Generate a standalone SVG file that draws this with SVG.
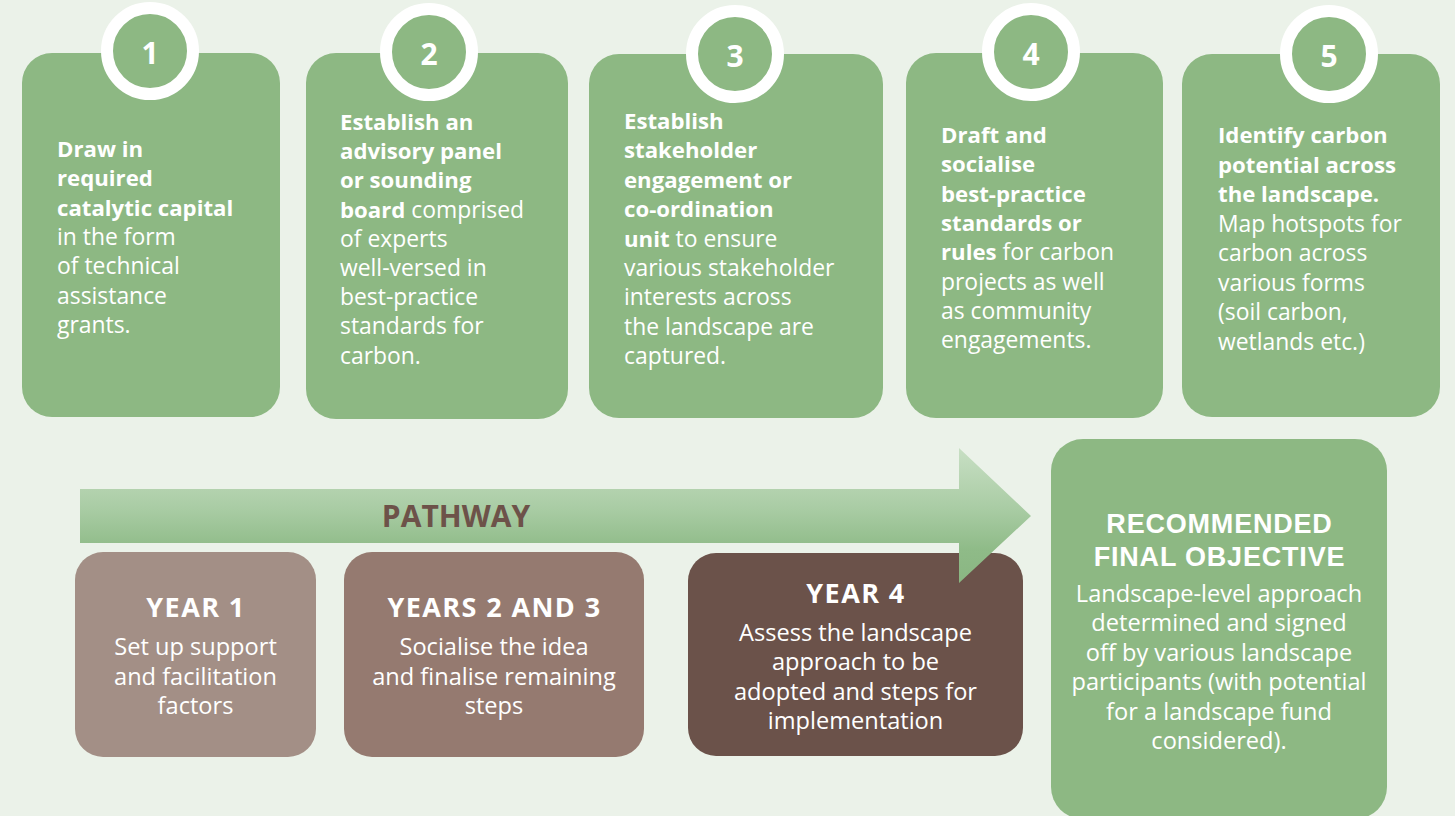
<svg xmlns="http://www.w3.org/2000/svg" width="1455" height="816" viewBox="0 0 1455 816">
<defs>
<linearGradient id="arrowGrad" x1="0" y1="448" x2="0" y2="583" gradientUnits="userSpaceOnUse">
<stop offset="0" stop-color="#c8dfc4"/>
<stop offset="0.45" stop-color="#a9cca4"/>
<stop offset="0.75" stop-color="#8fbb88"/>
<stop offset="1" stop-color="#8ab682"/>
</linearGradient>
<style>
.card{fill:#8db883}
.ring{fill:#8db883;stroke:#ffffff;stroke-width:12}
.num{font-family:"Open Sans","Liberation Sans",sans-serif;font-weight:700;font-size:30px;fill:#ffffff;text-anchor:middle}
.t{font-family:"Open Sans","Liberation Sans",sans-serif;font-size:22.9px;fill:#ffffff}
.b{font-weight:700;font-size:22.2px}
.c{text-anchor:middle;font-size:23.6px}
.h{font-family:"Open Sans","Liberation Sans",sans-serif;font-weight:700;font-size:27px;letter-spacing:1.4px;fill:#ffffff;text-anchor:middle}
.ho{font-family:"Liberation Sans","Open Sans",sans-serif;font-weight:700;font-size:27px;letter-spacing:0.8px;fill:#ffffff;text-anchor:middle}
.pw{font-family:"Open Sans","Liberation Sans",sans-serif;font-weight:700;font-size:30px;fill:#6d5249;text-anchor:middle}
</style>
</defs>
<rect x="0" y="0" width="1455" height="816" fill="#ebf2e9"/>

<g id="step1">
<rect class="card" x="22" y="53" width="258" height="364" rx="30"/>
<circle class="ring" cx="150" cy="51" r="43"/>
<text class="num" x="150" y="64">1</text>
<text class="t" x="57" y="157"><tspan class="b">Draw in</tspan><tspan class="b" x="57" dy="29.3">required</tspan><tspan class="b" x="57" dy="29.3">catalytic capital</tspan><tspan x="57" dy="29.3">in the form</tspan><tspan x="57" dy="29.3">of technical</tspan><tspan x="57" dy="29.3">assistance</tspan><tspan x="57" dy="29.3">grants.</tspan></text>
</g>

<g id="step2">
<rect class="card" x="306" y="53" width="262" height="366" rx="30"/>
<circle class="ring" cx="429" cy="52" r="43"/>
<text class="num" x="429" y="65">2</text>
<text class="t" x="340" y="130"><tspan class="b">Establish an</tspan><tspan class="b" x="340" dy="29.2">advisory panel</tspan><tspan class="b" x="340" dy="29.2">or sounding</tspan><tspan class="b" x="340" dy="29.2">board</tspan><tspan> comprised</tspan><tspan x="340" dy="29.2">of experts</tspan><tspan x="340" dy="29.2">well-versed in</tspan><tspan x="340" dy="29.2">best-practice</tspan><tspan x="340" dy="29.2">standards for</tspan><tspan x="340" dy="29.2">carbon.</tspan></text>
</g>

<g id="step3">
<rect class="card" x="589" y="54" width="294" height="364" rx="30"/>
<circle class="ring" cx="735" cy="54" r="43"/>
<text class="num" x="735" y="67">3</text>
<text class="t" x="624" y="129"><tspan class="b">Establish</tspan><tspan class="b" x="624" dy="29.4">stakeholder</tspan><tspan class="b" x="624" dy="29.4">engagement or</tspan><tspan class="b" x="624" dy="29.4">co-ordination</tspan><tspan class="b" x="624" dy="29.4">unit</tspan><tspan> to ensure</tspan><tspan x="624" dy="29.4">various stakeholder</tspan><tspan x="624" dy="29.4">interests across</tspan><tspan x="624" dy="29.4">the landscape are</tspan><tspan x="624" dy="29.4">captured.</tspan></text>
</g>

<g id="step4">
<rect class="card" x="906" y="53" width="257" height="365" rx="30"/>
<circle class="ring" cx="1031" cy="52" r="43"/>
<text class="num" x="1031" y="65">4</text>
<text class="t" x="941" y="143"><tspan class="b">Draft and</tspan><tspan class="b" x="941" dy="29.3">socialise</tspan><tspan class="b" x="941" dy="29.3">best-practice</tspan><tspan class="b" x="941" dy="29.3">standards or</tspan><tspan class="b" x="941" dy="29.3">rules</tspan><tspan> for carbon</tspan><tspan x="941" dy="29.3">projects as well</tspan><tspan x="941" dy="29.3">as community</tspan><tspan x="941" dy="29.3">engagements.</tspan></text>
</g>

<g id="step5">
<rect class="card" x="1182" y="54" width="258" height="363" rx="30"/>
<circle class="ring" cx="1329" cy="54" r="43"/>
<text class="num" x="1329" y="67">5</text>
<text class="t" x="1218" y="143"><tspan class="b">Identify carbon</tspan><tspan class="b" x="1218" dy="29.5">potential across</tspan><tspan class="b" x="1218" dy="29.5">the landscape.</tspan><tspan x="1218" dy="29.5">Map hotspots for</tspan><tspan x="1218" dy="29.5">carbon across</tspan><tspan x="1218" dy="29.5">various forms</tspan><tspan x="1218" dy="29.5">(soil carbon,</tspan><tspan x="1218" dy="29.5">wetlands etc.)</tspan></text>
</g>

<g id="year1">
<rect x="75" y="552" width="241" height="205" rx="28" fill="#a38f86"/>
<text class="h" x="196" y="617">YEAR 1</text>
<text class="t c" x="195.5" y="655"><tspan x="195.5">Set up support</tspan><tspan x="195.5" dy="29.5">and facilitation</tspan><tspan x="195.5" dy="29.5">factors</tspan></text>
</g>

<g id="years2and3">
<rect x="344" y="552" width="300" height="205" rx="28" fill="#957a70"/>
<text class="h" x="494.5" y="617">YEARS 2 AND 3</text>
<text class="t c" x="494" y="655"><tspan x="494">Socialise the idea</tspan><tspan x="494" dy="29.5">and finalise remaining</tspan><tspan x="494" dy="29.5">steps</tspan></text>
</g>

<g id="year4">
<rect x="688" y="553" width="335" height="203" rx="28" fill="#6b524a"/>
<text class="h" x="856" y="603">YEAR 4</text>
<text class="t c" x="855.5" y="641"><tspan x="855.5">Assess the landscape</tspan><tspan x="855.5" dy="29.3">approach to be</tspan><tspan x="855.5" dy="29.3">adopted and steps for</tspan><tspan x="855.5" dy="29.3">implementation</tspan></text>
</g>

<g id="connectors">
<g id="pathway">
<path d="M80 489 H959 V448 L1031 516 L959 583 V543 H80 Z" fill="url(#arrowGrad)"/>
<text class="pw" x="456" y="527">PATHWAY</text>
</g>
</g>

<g id="objective">
<rect class="card" x="1051" y="439" width="336" height="380" rx="32"/>
<text class="ho" x="1219.5" y="533">RECOMMENDED</text>
<text class="ho" x="1219.5" y="566">FINAL OBJECTIVE</text>
<text class="t c" x="1219" y="602"><tspan x="1219">Landscape-level approach</tspan><tspan x="1219" dy="29.4">determined and signed</tspan><tspan x="1219" dy="29.4">off by various landscape</tspan><tspan x="1219" dy="29.4">participants (with potential</tspan><tspan x="1219" dy="29.4">for a landscape fund</tspan><tspan x="1219" dy="29.4">considered).</tspan></text>
</g>
</svg>
